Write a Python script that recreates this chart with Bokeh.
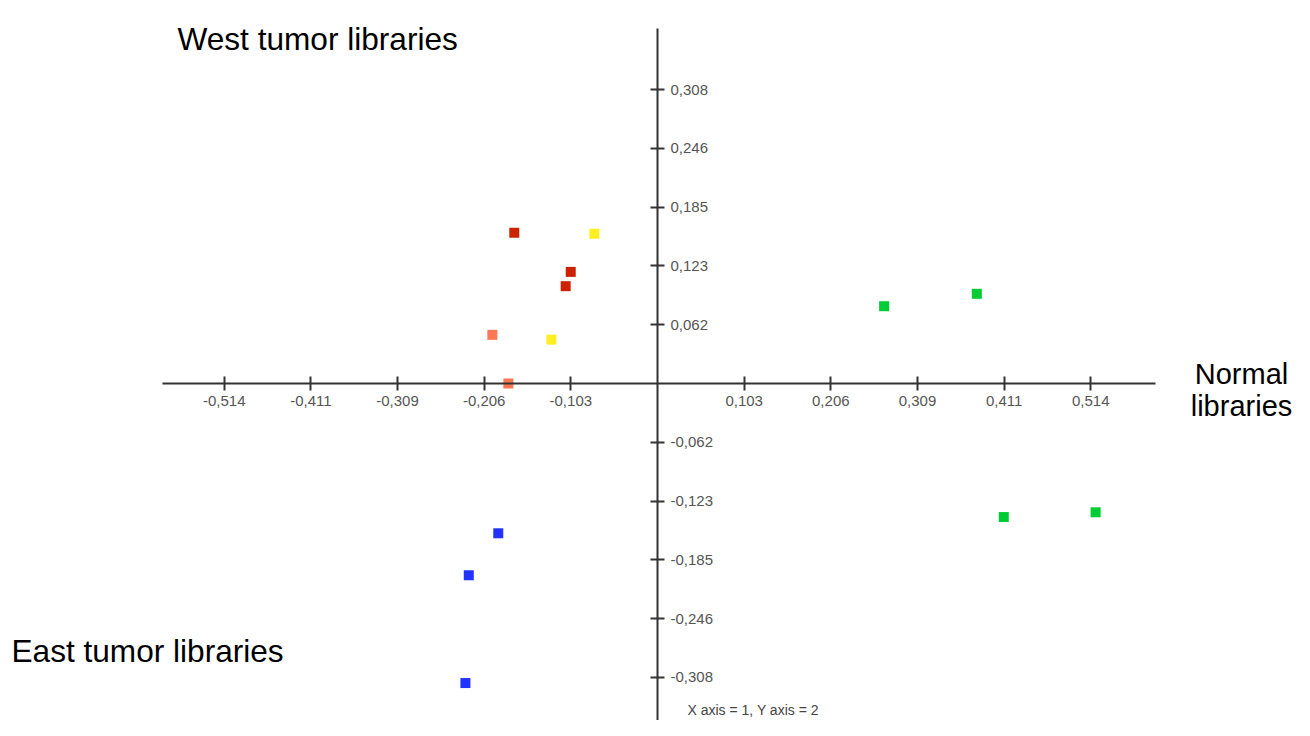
from bokeh.plotting import figure
from bokeh.models import Range1d, FixedTicker, CustomJSTickFormatter, Label
from bokeh.embed import file_html
from bokeh.resources import INLINE

# ---- data ----
west_dark_x = [-0.170, -0.103, -0.109]
west_dark_y = [0.158, 0.117, 0.102]
west_yellow_x = [-0.075, -0.126]
west_yellow_y = [0.157, 0.046]
west_salmon_x = [-0.196, -0.177]
west_salmon_y = [0.051, 0.000]
east_x = [-0.189, -0.224, -0.228]
east_y = [-0.157, -0.201, -0.314]
normal_x = [0.269, 0.379, 0.411, 0.520]
normal_y = [0.081, 0.094, -0.140, -0.135]

x_ticks = [-0.5142, -0.4114, -0.3086, -0.2057, -0.1029, 0.1029, 0.2057, 0.3086, 0.4114, 0.5142]
y_ticks = [-0.308, -0.2464, -0.1848, -0.1232, -0.0616, 0.0616, 0.1232, 0.1848, 0.2464, 0.308]

W, H = 1294, 720
OX, OY = 657, 383          # origin in figure pixels
SX, SY = 842.5, 954.0      # pixels per unit

def dx(px):
    return (px - OX) / SX

def dy(py):
    return (OY - py) / SY

p = figure(width=W, height=H, output_backend="svg", toolbar_location=None,
           x_range=Range1d(-OX / SX, (W - OX) / SX),
           y_range=Range1d(-(H - OY) / SY, OY / SY),
           y_axis_location="right", min_border=0)
p.outline_line_color = None
p.xgrid.visible = False
p.ygrid.visible = False
p.background_fill_color = "white"

fmt = CustomJSTickFormatter(code="return tick.toFixed(3).replace('.', ',');")
for ax, ticks, bounds in ((p.xaxis[0], x_ticks, (dx(162), dx(1155))),
                          (p.yaxis[0], y_ticks, (-0.40, dy(28)))):
    ax.fixed_location = 0
    ax.ticker = FixedTicker(ticks=ticks)
    ax.minor_tick_line_color = None
    ax.formatter = fmt
    ax.bounds = bounds
    ax.axis_line_color = "#333333"
    ax.axis_line_width = 2
    ax.major_tick_line_color = "#333333"
    ax.major_tick_line_width = 2
    ax.major_tick_in = 7
    ax.major_tick_out = 7
    ax.major_label_text_font = "Liberation Sans"
    ax.major_label_text_font_size = "15px"
    ax.major_label_text_color = "#555555"
    ax.major_label_standoff = 5
p.yaxis[0].major_label_text_baseline = "alphabetic"
p.yaxis[0].major_label_standoff = 6

p.scatter(west_dark_x, west_dark_y, marker="square", size=10, fill_color="#cc2200", line_color=None)
p.scatter(west_yellow_x, west_yellow_y, marker="square", size=10, fill_color="#ffee22", line_color=None)
p.scatter(west_salmon_x, west_salmon_y, marker="square", size=10, fill_color="#ff7755", line_color=None)
p.scatter(east_x, east_y, marker="square", size=10, fill_color="#2233ff", line_color=None)
p.scatter(normal_x, normal_y, marker="square", size=10, fill_color="#00cc33", line_color=None)

big = dict(text_font="Liberation Sans", text_font_size="31.6px", text_color="#000000",
           text_baseline="alphabetic")
p.add_layout(Label(x=dx(177), y=dy(38), text="West tumor libraries", text_align="left", **big))
p.add_layout(Label(x=dx(11), y=dy(650), text="East tumor libraries", text_align="left", **big))
big29 = dict(big, text_font_size="29px")
p.add_layout(Label(x=dx(1241), y=dy(373), text="Normal", text_align="center", **big29))
p.add_layout(Label(x=dx(1241), y=dy(405), text="libraries", text_align="center", **big29))
p.add_layout(Label(x=dx(687), y=dy(709), text="X axis = 1, Y axis = 2", text_align="left",
                   text_font="Liberation Sans", text_font_size="14px", text_color="#444444",
                   text_baseline="alphabetic"))

open("out.html", "w").write(file_html(p, INLINE))
